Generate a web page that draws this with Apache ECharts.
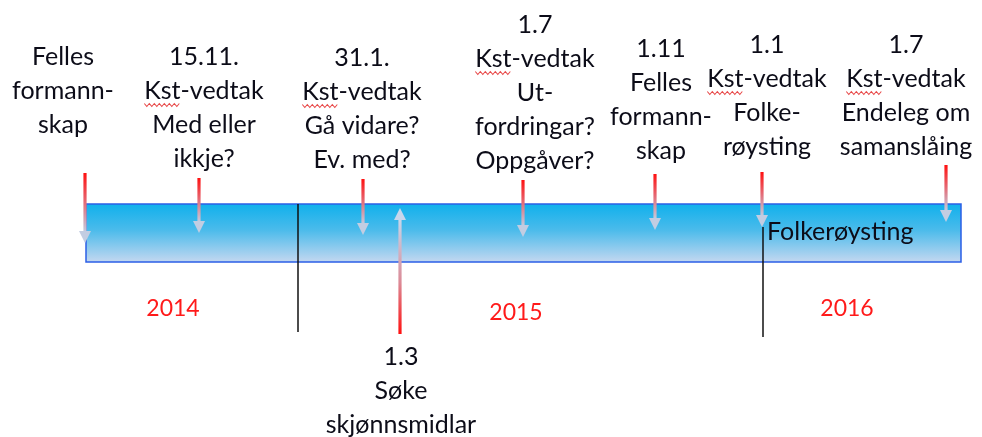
<!DOCTYPE html>
<html><head><meta charset="utf-8">
<script src="https://cdn.jsdelivr.net/npm/echarts@6/dist/echarts.min.js"></script>
<style>html,body{margin:0;padding:0;background:#fff}#c{width:982px;height:437px}</style>
</head><body><div id="c"></div>
<script>
// ---- data ----
const labelX = [63, 204, 362, 535, 661, 767, 906, 401];
const labelY = [57, 57, 58, 25, 49, 45, 45, 357];
const labelLines = [
  ['Felles', 'formann-', 'skap'],
  ['15.11.', 'Kst-vedtak', 'Med eller', 'ikkje?'],
  ['31.1.', 'Kst-vedtak', 'Gå vidare?', 'Ev. med?'],
  ['1.7', 'Kst-vedtak', 'Ut-', 'fordringar?', 'Oppgåver?'],
  ['1.11', 'Felles', 'formann-', 'skap'],
  ['1.1', 'Kst-vedtak', 'Folke-', 'røysting'],
  ['1.7', 'Kst-vedtak', 'Endeleg om', 'samanslåing'],
  ['1.3', 'Søke', 'skjønnsmidlar']
];
const arrowX = [85, 199, 363, 523, 655, 762, 946, 400];
const arrowFrom = [173, 178, 179, 180, 174, 172, 165, 334];
const arrowTo = [243, 233, 235, 237, 230, 227, 222, 208];
const bandX = [86, 961];
const bandY = [204, 262];
const dividerX = [298, 763];
const dividerTop = [204, 227];
const dividerBottom = [332, 337];
const yearLabels = ['2014', '2015', '2016'];
const yearX = [173, 516, 847];
const yearY = [309, 313, 309];
const bandText = ['Folkerøysting'];
const bandTextX = [767];
const bandTextY = [232];

const FONT = 'Lato, "Open Sans", sans-serif';
const FS = 25;
const LINE_GAP = 34;
const measureCtx = document.createElement('canvas').getContext('2d');
function textW(t, size) { measureCtx.font = size + 'px ' + FONT; return measureCtx.measureText(t).width; }

const chart = echarts.init(document.getElementById('c'), null, {renderer: 'canvas'});

function wavy(x0, x1, y) {
  const pts = []; let up = true;
  for (let x = x0; x <= x1; x += 2.5) { pts.push([x, y + (up ? -1.5 : 1.5)]); up = !up; }
  return pts;
}

chart.setOption({
  animation: false,
  grid: {left: 0, right: 0, top: 0, bottom: 0},
  xAxis: {type: 'value', min: 0, max: 982, show: false},
  yAxis: {type: 'value', min: 0, max: 437, inverse: true, show: false},
  series: [
    { // band
      type: 'custom', silent: true,
      data: [[bandX[0], bandX[1], bandY[0], bandY[1]]],
      renderItem(params, api) {
        const p0 = api.coord([api.value(0), api.value(2)]);
        const p1 = api.coord([api.value(1), api.value(3)]);
        return {
          type: 'rect',
          shape: {x: p0[0], y: p0[1], width: p1[0] - p0[0], height: p1[1] - p0[1]},
          style: {
            fill: new echarts.graphic.LinearGradient(0, 0, 0, 1, [
              {offset: 0, color: '#0eb0ec'},
              {offset: 0.45, color: '#4bbbeb'},
              {offset: 1, color: '#c6d8f0'}
            ]),
            stroke: '#2b5fe6', lineWidth: 1.5
          }
        };
      }
    },
    { // dividers
      type: 'custom', silent: true, z: 3,
      data: dividerX.map((x, i) => [x, dividerTop[i], dividerBottom[i]]),
      renderItem(params, api) {
        const a = api.coord([api.value(0), api.value(1)]);
        const b = api.coord([api.value(0), api.value(2)]);
        return {type: 'line', shape: {x1: a[0], y1: a[1], x2: b[0], y2: b[1]},
          style: {stroke: '#111', lineWidth: 1.5}};
      }
    },
    { // arrows
      type: 'custom', silent: true, z: 4,
      data: arrowX.map((x, i) => [x, arrowFrom[i], arrowTo[i]]),
      renderItem(params, api) {
        const a = api.coord([api.value(0), api.value(1)]);
        const b = api.coord([api.value(0), api.value(2)]);
        const dir = b[1] > a[1] ? 1 : -1;
        const head = 12, hw = 6, sw = 1.6;
        const neck = b[1] - dir * head;
        const top = Math.min(a[1], neck), h = Math.abs(neck - a[1]);
        const grad = dir > 0
          ? new echarts.graphic.LinearGradient(0, 0, 0, 1, [
              {offset: 0, color: '#ff1010'}, {offset: 0.45, color: '#e8606a'}, {offset: 1, color: '#c4c9dc'}])
          : new echarts.graphic.LinearGradient(0, 0, 0, 1, [
              {offset: 0, color: '#c9d6ea'}, {offset: 0.55, color: '#dc8a96'}, {offset: 1, color: '#ff1010'}]);
        return {
          type: 'group',
          children: [
            {type: 'rect', shape: {x: a[0] - sw, y: top, width: sw * 2, height: h}, style: {fill: grad}},
            {type: 'polygon', shape: {points: [[b[0] - hw, neck], [b[0] + hw, neck], [b[0], b[1]]]},
              style: {fill: dir > 0 ? '#c2cde2' : '#c8d6ec'}}
          ]
        };
      }
    },
    { // event labels
      type: 'custom', silent: true, z: 5,
      data: labelX.map((x, i) => [x, labelY[i]]),
      renderItem(params, api) {
        const p = api.coord([api.value(0), api.value(1)]);
        const lines = labelLines[params.dataIndex];
        const children = [];
        lines.forEach((t, i) => {
          const y = p[1] + i * LINE_GAP;
          children.push({type: 'text', style: {text: t, x: p[0], y: y, align: 'center', verticalAlign: 'middle',
            font: FS + 'px ' + FONT, fill: '#0c0c18'}});
          if (t.indexOf('Kst') === 0) {
            const w = textW(t, FS), wk = textW('Kst', FS);
            const x0 = p[0] - w / 2;
            children.push({type: 'polyline', shape: {points: wavy(x0, x0 + wk, y + 14)},
              style: {stroke: '#e84a4a', lineWidth: 1.1, fill: null}});
          }
        });
        return {type: 'group', children};
      }
    },
    { // year labels
      type: 'custom', silent: true, z: 5,
      data: yearX.map((x, i) => [x, yearY[i]]),
      renderItem(params, api) {
        const p = api.coord([api.value(0), api.value(1)]);
        return {type: 'text', style: {text: yearLabels[params.dataIndex], x: p[0], y: p[1], align: 'center',
          verticalAlign: 'middle', font: '23px ' + FONT, fill: '#ff1a1a'}};
      }
    },
    { // band text
      type: 'custom', silent: true, z: 6,
      data: bandTextX.map((x, i) => [x, bandTextY[i]]),
      renderItem(params, api) {
        const p = api.coord([api.value(0), api.value(1)]);
        return {type: 'text', style: {text: bandText[params.dataIndex], x: p[0], y: p[1], align: 'left',
          verticalAlign: 'middle', font: FS + 'px ' + FONT, fill: '#0c0c18'}};
      }
    }
  ]
});
</script></body></html>
